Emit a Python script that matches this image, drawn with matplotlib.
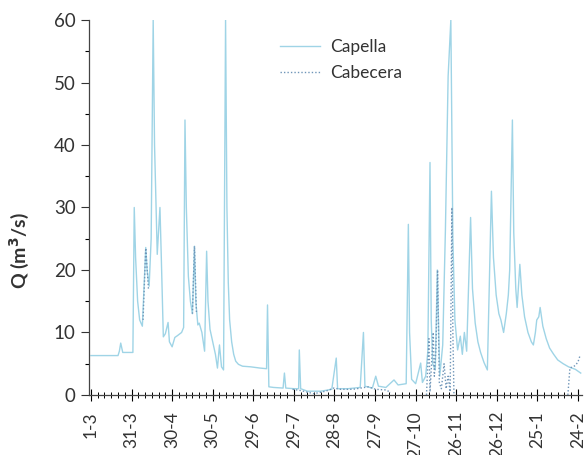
import matplotlib
matplotlib.use("Agg")
import matplotlib.pyplot as plt
import numpy as np

plt.rcParams['font.family'] = ['Lato', 'DejaVu Sans']

# days counted from 1-3
tick_days = [0, 30, 60, 90, 120, 150, 180, 210, 240, 270, 300, 330, 360]
tick_labels = ['1-3', '31-3', '30-4', '30-5', '29-6', '29-7', '28-8',
               '27-9', '27-10', '26-11', '26-12', '25-1', '24-2']

cap_days = [0, 20, 21, 22, 23.5, 31, 32, 33, 34.5, 36, 38, 40.5, 41.5, 43, 44.5, 46,
            47, 49, 51, 52, 53.5, 55, 57, 58, 60, 62, 64, 67, 68.5, 69.5, 70.5,
            72, 73.5, 75, 76.5, 77.5, 79, 80, 82, 84, 85.5, 86.5, 88, 90, 92,
            93.5, 95, 96.5, 98, 99.5, 100.5, 101.5, 102.5, 104, 105.5, 107,
            109, 112, 118, 125, 129.8, 130.5, 131.5, 135, 142, 143, 144, 150,
            153.5, 154, 155, 160, 170, 178, 181.3, 182.3, 190, 199, 201.4,
            202.5, 208, 210.5, 212.5, 218, 224, 227, 233, 234.6, 235.5, 237,
            240, 243.7, 245, 247.4, 249, 250.6, 251.5, 252.6, 254.5, 256,
            257.8, 260, 262, 264, 266, 267.5, 269, 271, 273, 274.5, 276, 277.7,
            280.6, 282, 284, 286, 288, 290.5, 293, 296, 297.5, 299.5, 301.5,
            303, 305, 307, 308.5, 309.5, 311.5, 312.5, 314, 315, 317, 318.5,
            320.5, 323, 325.5, 327, 328.5, 329.5, 331, 332, 334, 336.5, 339,
            342, 345, 349, 353, 358, 362]
cap_vals = [6.3, 6.3, 7.0, 8.3, 6.8, 6.8, 30, 22, 15, 12, 11, 23.6, 20, 17.4, 25, 60,
            40, 22.5, 30, 22, 9.3, 9.8, 11.6, 8.5, 7.7, 9.2, 9.5, 10, 10.8, 44,
            30, 19, 15, 13, 23.8, 15, 11.2, 11.5, 10, 7, 23, 15, 10.5, 8.5, 6.5,
            4.3, 8, 4.5, 4, 60, 30, 18, 12, 8.5, 6.5, 5.4, 4.9, 4.6, 4.5, 4.3,
            4.2, 14.4, 1.3, 1.2, 1.1, 3.5, 1.1, 1.0, 1.0, 7.2, 1.0, 0.6, 0.6,
            0.9, 5.9, 1.0, 1.0, 1.2, 10, 1.4, 1.1, 3.0, 1.4, 1.2, 2.4, 1.6, 1.8,
            27.3, 10, 2.5, 1.8, 5.1, 2.0, 3.0, 7, 37.2, 12, 5, 4, 20, 3, 8,
            26.5, 51, 60, 25, 12, 7.2, 9.4, 6.5, 10, 7, 28.4, 17, 11.5, 8.5,
            6.8, 5.2, 4, 32.6, 22, 16, 13, 12, 10, 13, 16, 20, 44, 26, 17, 14,
            20.9, 16, 12.5, 10, 8.5, 8, 10, 12, 12.5, 14, 11, 9, 7.5, 6.5, 5.6,
            5, 4.5, 4.1, 3.5]

cab_days = [38.5, 40.5, 42.5, np.nan, 75, 76.5, 78, np.nan,
            149, 155, 164.7, 173.5, 179.5, 184.6, 193.5, 199.4, 205, 210.5,
            218, 221.6, np.nan,
            248, 249.8, 250.6, 251.5, 253, 253.8, 255, 256.2, 257.5, 259, 261,
            262.5, 264, 265.5, 266.8, 267.5, 268.3, np.nan,
            352.5, 354, 356, 358, 360, 361.5]
cab_vals = [12, 23.5, 17, np.nan, 13, 23.8, 13, np.nan,
            0.9, 0.7, 0.2, 0.6, 1.1, 0.9, 0.9, 1.1, 1.3, 0.9, 0.8, 0.4, np.nan,
            0, 9, 0.5, 4, 10, 3, 7.5, 20, 2, 1, 5, 1, 3, 0.5, 30, 10, 0, np.nan,
            0, 4.3, 4.5, 4.7, 5.3, 6.3]

fig = plt.figure(figsize=(5.85, 4.55), dpi=100)
ax = fig.add_axes([0.152, 0.132, 0.843, 0.824])

ax.plot(cap_days, cap_vals, color='#9fd4e6', lw=1.0, label='Capella')
ax.plot(cab_days, cab_vals, color='#6f95b8', lw=1.0, ls=(0, (1, 1.5)),
        label='Cabecera')

ax.set_xlim(-1.5, 363)
ax.set_ylim(0, 60)
ax.set_xticks(tick_days)
ax.set_xticklabels(tick_labels, rotation=90, fontsize=12.5, color='#333333')
ax.set_xticks(np.arange(0, 361, 5), minor=True)
ax.set_yticks([0, 10, 20, 30, 40, 50, 60])
ax.set_yticks([5, 15, 25, 35, 45, 55], minor=True)
ax.tick_params(axis='y', labelsize=13.5, colors='#333333', length=6, width=0.8)
ax.tick_params(axis='y', which='minor', length=3, width=0.8)
ax.tick_params(axis='x', direction='inout', length=9, width=0.8, pad=7)
ax.tick_params(axis='x', which='minor', direction='inout', length=5, width=0.7)

for s in ['top', 'right']:
    ax.spines[s].set_visible(False)
for s in ['left', 'bottom']:
    ax.spines[s].set_color('#444444')
    ax.spines[s].set_linewidth(0.9)

ax.set_ylabel('Q (m$^\\mathbf{3}$/s)', fontsize=14, fontweight='bold',
              color='#333333')
ax.yaxis.set_label_coords(-0.118, 0.385)

leg = ax.legend(loc='upper left', bbox_to_anchor=(0.355, 0.99), frameon=False,
                fontsize=12.5, handlelength=2.3, handletextpad=0.6,
                labelspacing=0.55)
for t in leg.get_texts():
    t.set_color('#333333')

fig.savefig('out.png', dpi=100)
